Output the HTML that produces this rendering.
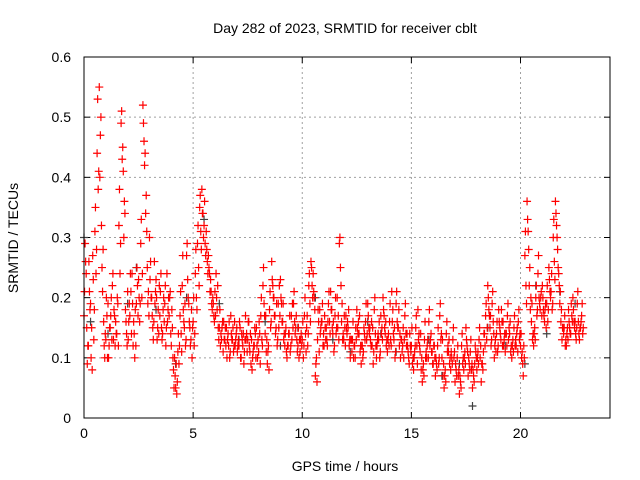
<!DOCTYPE html>
<html><head><meta charset="utf-8"><style>
body{margin:0;background:#fff}
svg{display:block;font-family:"Liberation Sans",sans-serif}
</style></head><body>
<svg id="c" width="640" height="480">
<text x="345" y="33" font-size="14" text-anchor="middle">Day 282 of 2023, SRMTID for receiver cblt</text>
<text x="345" y="471" font-size="14" text-anchor="middle">GPS time / hours</text>
<text transform="translate(18,238) rotate(-90)" font-size="14" text-anchor="middle">SRMTID / TECUs</text>
</svg>
<script>
const xTicks=[0,5,10,15,20];
const yTicks=[0,0.1,0.2,0.3,0.4,0.5,0.6];
const yTickLabels=["0","0.1","0.2","0.3","0.4","0.5","0.6"];
const stepA=0.1;
const seriesA=[.17,.24,.12,.19,.27,.31,.44,.55,.32,.16,.13,.19,.15,.22,.17,.14,.32,.49,.41,.18,.21,.17,.24,.14,.19,.23,.29,.52,.44,.25,.30,.20,.16,.23,.18,.21,.14,.19,.24,.17,.12,.08,.05,.11,.17,.22,.15,.27,.19,.13,.16,.24,.29,.35,.38,.32,.31,.27,.23,.20,.21,.18,.15,.13,.16,.12,.14,.11,.13,.16,.15,.12,.10,.14,.17,.13,.11,.08,.12,.15,.11,.17,.22,.14,.09,.18,.26,.20,.15,.19,.23,.16,.12,.10,.14,.17,.19,.15,.12,.11,.13,.17,.15,.22,.26,.24,.07,.13,.18,.16,.12,.15,.19,.21,.14,.17,.20,.29,.16,.13,.17,.15,.10,.13,.12,.18,.14,.09,.11,.16,.19,.15,.12,.18,.10,.13,.17,.20,.14,.11,.16,.21,.13,.19,.15,.10,.12,.17,.14,.09,.12,.08,.15,.18,.11,.06,.13,.10,.16,.14,.09,.07,.12,.17,.10,.05,.14,.11,.08,.13,.06,.10,.04,.12,.08,.15,.07,.11,.05,.09,.08,.13,.06,.11,.17,.22,.15,.19,.10,.14,.18,.13,.16,.11,.17,.14,.10,.15,.12,.16,.12,.09,.27,.36,.22,.16,.12,.20,.24,.18,.22,.16,.19,.25,.21,.30,.36,.28,.19,.13,.15,.12,.18,.14,.20,.16,.19,.13,.17];
const startB=0.05;
const seriesB=[.29,.09,.21,.15,.13,.24,.38,.47,.21,.10,.17,.12,.20,.13,.16,.19,.24,.43,.36,.14,.16,.21,.12,.18,.22,.16,.20,.46,.37,.21,.26,.15,.19,.13,.22,.15,.20,.12,.18,.21,.15,.10,.04,.09,.14,.18,.12,.23,.15,.10,.12,.20,.25,.31,.34,.29,.26,.24,.19,.17,.24,.15,.12,.16,.13,.10,.16,.14,.11,.13,.12,.15,.13,.11,.14,.16,.09,.11,.14,.10,.14,.13,.19,.11,.12,.15,.22,.17,.12,.22,.19,.13,.15,.12,.11,.19,.16,.13,.10,.14,.10,.14,.12,.19,.22,.20,.10,.16,.15,.12,.15,.12,.16,.18,.11,.14,.17,.25,.13,.15,.14,.12,.13,.10,.15,.14,.11,.12,.14,.13,.15,.12,.09,.14,.13,.10,.15,.17,.12,.14,.13,.18,.10,.16,.12,.13,.10,.14,.11,.12,.09,.11,.12,.14,.08,.09,.10,.13,.12,.11,.12,.09,.09,.13,.07,.08,.11,.09,.10,.10,.08,.07,.06,.09,.11,.12,.09,.08,.07,.11,.11,.10,.09,.14,.13,.18,.12,.16,.13,.11,.15,.16,.13,.14,.13,.11,.13,.12,.15,.13,.10,.12,.22,.31,.18,.13,.15,.17,.20,.21,.18,.19,.16,.21,.18,.26,.32,.24,.16,.15,.12,.15,.15,.17,.16,.13,.16,.15,.14];
const startC=0.025;
const seriesC=[.21,.15,.26,.10,.23,.35,.53,.40,.25,.12,.20,.10,.17,.24,.12,.20,.38,.51,.30,.16,.13,.24,.19,.10,.25,.20,.33,.49,.34,.19,.23,.17,.26,.20,.14,.24,.18,.22,.16,.20,.18,.05,.09,.14,.21,.27,.19,.29,.16,.18,.20,.28,.32,.37,.34,.36,.28,.25,.21,.19,.17,.22,.18,.15,.13,.15,.12,.17,.15,.12,.11,.16,.14,.09,.13,.16,.14,.10,.15,.12,.16,.20,.25,.17,.11,.21,.23,.17,.19,.15,.20,.19,.14,.12,.17,.13,.21,.17,.15,.13,.16,.20,.17,.24,.25,.21,.09,.18,.14,.19,.17,.13,.21,.18,.16,.20,.15,.30,.19,.17,.15,.18,.13,.16,.10,.15,.17,.12,.15,.19,.17,.13,.15,.20,.12,.16,.14,.18,.16,.13,.19,.16,.15,.21,.18,.13,.15,.19,.12,.14,.15,.10,.17,.13,.14,.08,.16,.12,.18,.11,.12,.10,.15,.19,.13,.07,.16,.13,.11,.15,.09,.12,.07,.14,.10,.13,.10,.13,.08,.12,.10,.15,.09,.14,.19,.20,.17,.21,.12,.16,.16,.18,.12,.14,.19,.16,.12,.17,.14,.18,.14,.07,.31,.33,.25,.19,.14,.22,.27,.20,.20,.18,.22,.23,.24,.33,.34,.25,.21,.15,.17,.14,.16,.19,.18,.14,.21,.15,.19];
const startD=0.075;
const seriesD=[.26,.12,.18,.08,.18,.28,.41,.50,.28,.14,.10,.15,.13,.18,.14,.12,.29,.45,.34,.12,.19,.14,.16,.12,.17,.19,.24,.42,.31,.17,.20,.13,.21,.15,.17,.13,.16,.15,.20,.14,.10,.07,.06,.12,.11,.16,.13,.20,.12,.15,.14,.18,.22,.28,.30,.27,.24,.21,.18,.16,.20,.13,.14,.11,.15,.13,.10,.13,.12,.14,.13,.10,.12,.13,.11,.12,.13,.12,.10,.13,.09,.12,.17,.13,.08,.16,.20,.14,.13,.17,.16,.14,.11,.14,.12,.15,.14,.11,.13,.12,.12,.11,.14,.16,.20,.18,.06,.11,.16,.14,.13,.16,.14,.15,.12,.15,.13,.22,.14,.12,.16,.13,.11,.12,.13,.16,.12,.10,.13,.14,.14,.16,.11,.12,.14,.11,.13,.15,.13,.12,.12,.14,.11,.15,.14,.11,.13,.12,.10,.11,.10,.12,.09,.12,.10,.07,.11,.10,.13,.09,.10,.08,.10,.14,.09,.06,.12,.10,.09,.11,.07,.08,.05,.10,.09,.11,.08,.09,.06,.10,.09,.12,.08,.12,.15,.17,.13,.14,.11,.12,.14,.12,.14,.12,.15,.12,.11,.13,.11,.14,.11,.10,.19,.28,.20,.14,.13,.18,.19,.17,.17,.15,.18,.20,.19,.23,.30,.22,.18,.14,.13,.13,.14,.16,.15,.15,.14,.16,.15];
const darkT=[0.0,0.3,1.1,2.0,2.4,3.3,4.2,4.7,5.5,6.2,7.1,8.3,9.0,9.8,10.6,11.4,12.2,13.0,13.6,14.3,15.1,15.8,16.4,17.2,17.8,18.5,19.3,20.2,20.7,21.2,21.8,22.5];
const darkV=[.30,.16,.14,.19,.25,.18,.09,.20,.33,.19,.13,.16,.12,.15,.20,.13,.11,.16,.14,.11,.10,.13,.07,.09,.02,.15,.12,.09,.22,.14,.21,.19];
const X0=84,X1=610,Y0=418,Y1=57;
const xs=t=>X0+t*(X1-X0)/24.1;
const ys=v=>Y0-v*(Y0-Y1)/0.6;
const svg=document.getElementById('c');
const NS='http://www.w3.org/2000/svg';
function mk(tag,attrs){const e=document.createElementNS(NS,tag);for(const k in attrs)e.setAttribute(k,attrs[k]);svg.appendChild(e);return e;}
xTicks.forEach(t=>{
 const x=xs(t);
 if(t>0){const g=mk('line',{x1:x,x2:x,y1:Y1,y2:Y0,stroke:'#a0a0a0','stroke-dasharray':'2,3'});
 
 }
 mk('line',{x1:x,x2:x,y1:Y0,y2:Y0-6,stroke:'#000'});
 mk('line',{x1:x,x2:x,y1:Y1,y2:Y1+6,stroke:'#000'});
 const l=mk('text',{x:x,y:Y0+20,'font-size':14,'text-anchor':'middle'});l.textContent=t;
 
 
});
yTicks.forEach((v,i)=>{
 const y=ys(v);
 if(v>0&&v<0.6){const g=mk('line',{x1:X0,x2:X1,y1:y,y2:y,stroke:'#a0a0a0','stroke-dasharray':'2,3'});
 
 }
 mk('line',{x1:X0,x2:X0+6,y1:y,y2:y,stroke:'#000'});
 mk('line',{x1:X1,x2:X1-6,y1:y,y2:y,stroke:'#000'});
 const l=mk('text',{x:X0-13,y:y+5,'font-size':14,'text-anchor':'end'});l.textContent=yTickLabels[i];
 
 
});
function plus(t,v,col,name){
 const x=xs(t),y=ys(v);
 const p=mk('path',{d:`M${x-4} ${y}h8M${x} ${y-4}v8`,stroke:col,'stroke-width':1.2,fill:'none'});
 
 
}
darkT.forEach((t,i)=>plus(t,darkV[i],'#404040','dark-point'));
seriesA.forEach((v,i)=>plus(i*stepA,v,'#ff0000','srmtid-point'));
seriesB.forEach((v,i)=>plus(startB+i*stepA,v,'#ff0000','srmtid-point'));
seriesC.forEach((v,i)=>plus(startC+i*stepA,v,'#ff0000','srmtid-point'));
seriesD.forEach((v,i)=>plus(startD+i*stepA,v,'#ff0000','srmtid-point'));
const f=mk('rect',{x:X0,y:Y1,width:X1-X0,height:Y0-Y1,fill:'none',stroke:'#000'});


</script>
</body></html>
